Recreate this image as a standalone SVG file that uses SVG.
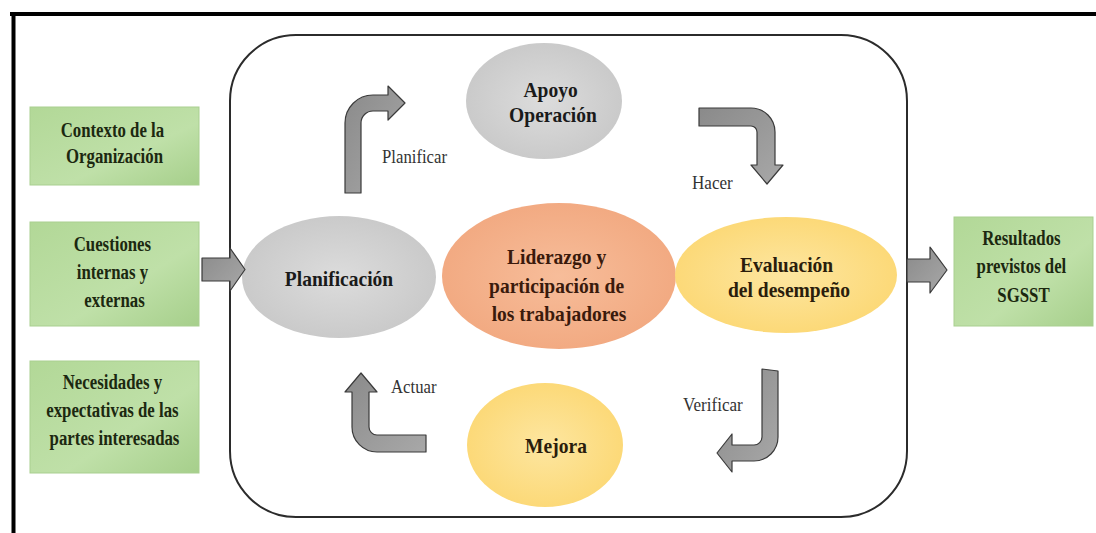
<svg xmlns="http://www.w3.org/2000/svg" width="1096" height="533" viewBox="0 0 1096 533">
  <defs>
    <linearGradient id="greenFill" x1="0" y1="0" x2="1" y2="1">
      <stop offset="0" stop-color="#b2d897"/>
      <stop offset="0.6" stop-color="#bfe0a8"/>
      <stop offset="1" stop-color="#a6cf8b"/>
    </linearGradient>
    <radialGradient id="grayFill" cx="0.5" cy="0.5" r="0.5">
      <stop offset="0" stop-color="#dcdcdc"/>
      <stop offset="1" stop-color="#cacaca"/>
    </radialGradient>
    <radialGradient id="orangeFill" cx="0.5" cy="0.5" r="0.5">
      <stop offset="0" stop-color="#f7bd9a"/>
      <stop offset="1" stop-color="#f2aa82"/>
    </radialGradient>
    <radialGradient id="yellowFill" cx="0.5" cy="0.5" r="0.5">
      <stop offset="0" stop-color="#fde6a0"/>
      <stop offset="1" stop-color="#fcd978"/>
    </radialGradient>
    <linearGradient id="arrowFill" x1="0" y1="0" x2="1" y2="1">
      <stop offset="0" stop-color="#8a8a8a"/>
      <stop offset="1" stop-color="#a8a8a8"/>
    </linearGradient>
  </defs>
  <style>
    .box { fill: url(#greenFill); stroke: #a9cf90; stroke-width: 1; }
    .serif { font-family: "Liberation Serif", "DejaVu Serif", "Noto Serif", serif; }
    .boxText { font-weight: bold; font-size: 21px; fill: #1c2810; text-anchor: middle; }
    .ellText { font-weight: bold; font-size: 21px; fill: #1a1a1a; text-anchor: middle; }
    .label { font-size: 18px; fill: #333333; }
    .arrow { fill: url(#arrowFill); stroke: #3a3a3a; stroke-width: 1.2; stroke-linejoin: round; }
    .frame { stroke: #000000; stroke-width: 4; fill: none; }
  </style>

  <rect x="0" y="0" width="1096" height="533" fill="#ffffff"/>

  <!-- outer frame -->
  <g id="frame">
    <line class="frame" x1="10" y1="14" x2="1096" y2="14"/>
    <line class="frame" x1="13.5" y1="12" x2="13.5" y2="533"/>
  </g>

  <!-- system boundary -->
  <g id="boundary">
    <rect x="230" y="35" width="677" height="482" rx="66" ry="66" fill="none" stroke="#2b2b2b" stroke-width="2"/>
  </g>

  <!-- inputs -->
  <g id="contexto">
    <rect class="box" x="30" y="107" width="169" height="78"/>
    <text class="serif boxText" font-family="Liberation Serif, DejaVu Serif, serif" transform="translate(114.5,0) scale(0.8,1)">
      <tspan x="0" y="137">Contexto de la</tspan>
      <tspan x="0" y="163">Organización</tspan>
    </text>
  </g>
  <g id="cuestiones">
    <rect class="box" x="30" y="222" width="169" height="104"/>
    <text class="serif boxText" transform="translate(114.5,0) scale(0.8,1)">
      <tspan x="0" y="251">Cuestiones</tspan>
      <tspan x="0" y="279">internas y</tspan>
      <tspan x="0" y="307">externas</tspan>
    </text>
  </g>
  <g id="necesidades">
    <rect class="box" x="30" y="361" width="169" height="112"/>
    <text class="serif boxText" transform="translate(114.5,0) scale(0.8,1)">
      <tspan x="0" y="389">Necesidades y</tspan>
      <tspan x="0" y="417">expectativas de las</tspan>
      <tspan x="0" y="445">partes interesadas</tspan>
    </text>
  </g>

  <!-- output -->
  <g id="resultados">
    <rect class="box" x="954" y="217" width="139" height="109"/>
    <text class="serif boxText" transform="translate(1023.5,0) scale(0.8,1)">
      <tspan x="0" y="245">Resultados</tspan>
      <tspan x="0" y="273">previstos del</tspan>
      <tspan x="0" y="302">SGSST</tspan>
    </text>
  </g>

  <!-- cycle stages -->
  <g id="apoyo">
    <ellipse cx="544" cy="101" rx="78" ry="58" fill="url(#grayFill)"/>
    <text class="serif ellText" transform="translate(553,0) scale(0.93,1)">
      <tspan x="0" y="97">Apoyo</tspan>
      <tspan x="0" y="122">Operación</tspan>
    </text>
  </g>
  <g id="planificacion">
    <ellipse cx="339" cy="277" rx="97" ry="61" fill="url(#grayFill)"/>
    <text class="serif ellText" transform="translate(339,0) scale(0.93,1)">
      <tspan x="0" y="286">Planificación</tspan>
    </text>
  </g>
  <g id="liderazgo">
    <ellipse cx="559" cy="276" rx="117" ry="73" fill="url(#orangeFill)"/>
    <text class="serif ellText" transform="translate(559,0) scale(0.93,1)" style="fill:#3a1a0c">
      <tspan x="0" y="264">Liderazgo y</tspan>
      <tspan x="0" y="293">participación de</tspan>
      <tspan x="0" y="321">los trabajadores</tspan>
    </text>
  </g>
  <g id="evaluacion">
    <ellipse cx="786" cy="275" rx="111" ry="58" fill="url(#yellowFill)"/>
    <text class="serif ellText" transform="translate(789,0) scale(0.93,1)" style="fill:#2a1d0c">
      <tspan x="0" y="272">Evaluación</tspan>
      <tspan x="0" y="297">del desempeño</tspan>
    </text>
  </g>
  <g id="mejora">
    <ellipse cx="545" cy="445" rx="78" ry="62" fill="url(#yellowFill)"/>
    <text class="serif ellText" transform="translate(556,0) scale(0.93,1)" style="fill:#2a1d0c">
      <tspan x="0" y="453">Mejora</tspan>
    </text>
  </g>

  <!-- connectors -->
  <g id="connectors">
    <!-- inputs into planning -->
    <path class="arrow" d="M202,258 H230 V248 L245,269.5 L230,291 V281 H202 Z"/>
    <!-- performance to results -->
    <path class="arrow" d="M907,259 H930 V247 L947,270 L930,293 V282 H907 Z"/>
    <!-- Planificar -->
    <path class="arrow" d="M345,193 V123 A28,28 0 0 1 373,95 H388 V86 L405,103 L388,120 V111 H373 A12,12 0 0 0 361,123 V193 Z"/>
    <!-- Hacer -->
    <path class="arrow" d="M699,108 H751 A24,24 0 0 1 775,132 V165 H783 L767,184 L751,165 H757 V132 A6,6 0 0 0 751,126 H699 Z"/>
    <!-- Verificar -->
    <path class="arrow" d="M762,369 L778,371 V437 A24,24 0 0 1 754,461 H732 V472 L717,453 L732,434 V445 H754 A8,8 0 0 0 762,437 Z"/>
    <!-- Actuar -->
    <path class="arrow" d="M426,435 H377 A8,8 0 0 1 369,427 V392 H377 L361,373 L345,392 H352 V427 A25,25 0 0 0 377,452 H426 Z"/>

    <text class="serif label" transform="translate(382,0) scale(0.93,1)" x="0" y="163">Planificar</text>
    <text class="serif label" transform="translate(692,0) scale(0.95,1)" x="0" y="189">Hacer</text>
    <text class="serif label" transform="translate(683,0) scale(0.95,1)" x="0" y="411">Verificar</text>
    <text class="serif label" transform="translate(391,0) scale(0.93,1)" x="0" y="393">Actuar</text>
  </g>
</svg>
